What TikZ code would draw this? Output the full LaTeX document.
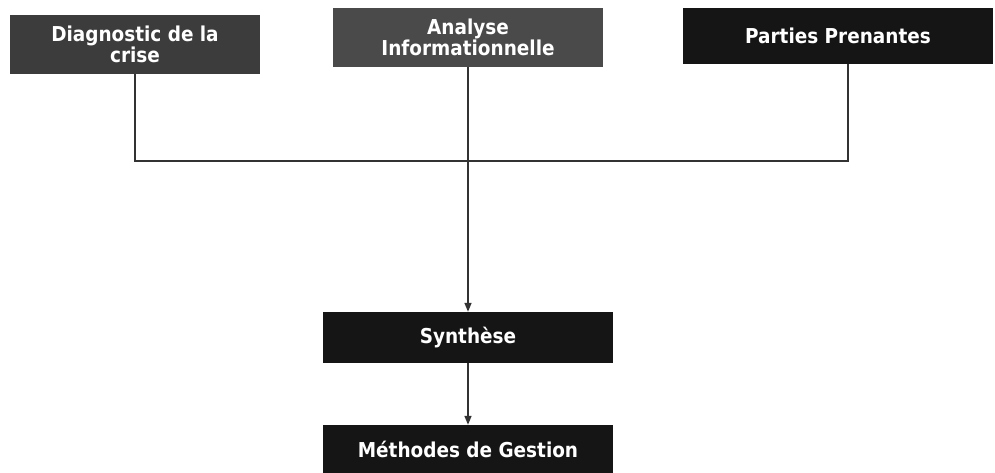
\documentclass[tikz,border=0pt]{standalone}
\usepackage{fontspec}
\newfontfamily\boxfont{DejaVu Sans Condensed Bold}
\usetikzlibrary{arrows.meta}
\definecolor{boxA}{HTML}{3C3C3C}
\definecolor{boxB}{HTML}{4A4A4A}
\definecolor{boxC}{HTML}{151515}
\definecolor{lineC}{HTML}{333333}
\tikzset{
  box/.style={fill=#1, draw=none, text=white, align=center, inner sep=0pt,
    font=\boxfont\fontsize{20.5}{21}\selectfont},
  conn/.style={draw=lineC, line width=1.5pt},
  arr/.style={conn, -{Triangle[width=7pt,length=9pt]}}
}
\begin{document}
\begin{tikzpicture}[x=1pt,y=-1pt]
\useasboundingbox[fill=white] (0,0) rectangle (995,473);
\node[box=boxA, minimum width=250pt, minimum height=59pt] (diag) at (135,44.5) {Diagnostic de la\\crise};
\node[box=boxB, minimum width=270pt, minimum height=59pt] (ana) at (468,37.5) {Analyse\\Informationnelle};
\node[box=boxC, minimum width=310pt, minimum height=56pt] (part) at (838,36) {Parties Prenantes};
\node[box=boxC, minimum width=290pt, minimum height=51pt] (syn) at (468,337.5) {Synthèse};
\node[box=boxC, minimum width=290pt, minimum height=48pt] (meth) at (468,449) {Méthodes de Gestion};
\coordinate (j) at (468,161);
\draw[conn] (diag.south) |- (j);
\draw[conn] ([xshift=10pt]part.south) |- (j);
\draw[arr] (ana.south) -- (syn.north);
\draw[arr] (syn.south) -- (meth.north);
\end{tikzpicture}
\end{document}
